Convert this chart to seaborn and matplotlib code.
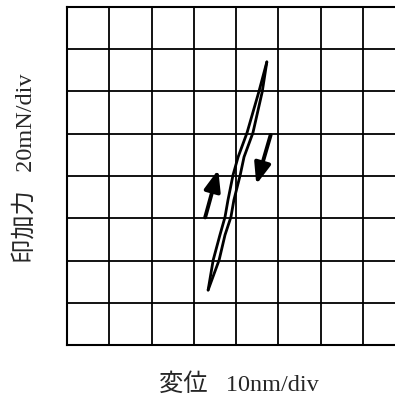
import matplotlib
matplotlib.use("Agg")
import matplotlib.pyplot as plt
import seaborn as sns
import pandas as pd
import numpy as np

# ---- data (displacement in nm, force in mN) ----
load_x = [33.4, 34.6, 36.2, 37.4, 38.1, 39.3, 40.5, 42.6, 45.4, 47.3]
load_y = [26.0, 40.2, 52.1, 60.6, 68.6, 80.5, 89.0, 100.4, 119.8, 134.0]
unload_x = [47.3, 46.2, 44.0, 41.9, 41.0, 39.5, 38.8, 37.4, 36.0, 33.4]
unload_y = [134.0, 119.8, 100.4, 89.0, 80.5, 68.6, 60.6, 52.1, 40.2, 26.0]

# direction arrows: (tail, head)
arrow_up = [(32.7, 60.4), (35.8, 83.0)]
arrow_down = [(48.2, 99.4), (44.8, 76.0)]

x_div = 10   # nm per division
y_div = 20   # mN per division
n_xdiv = 8
n_ydiv = 8

xlabel = "変位   10nm/div"
ylabel = "印加力   20mN/div"

sns.set_style("white")
plt.rcParams['font.family'] = ['Liberation Serif', 'Noto Sans CJK JP', 'DejaVu Sans']

df = pd.DataFrame({
    "x": load_x + unload_x,
    "y": load_y + unload_y,
    "branch": ["load"] * len(load_x) + ["unload"] * len(unload_x),
})

fig = plt.figure(figsize=(3.95, 4.01), dpi=100)
W, H = 395, 401
ax = fig.add_axes([67 / W, (H - 345) / H, 338 / W, 338 / H])

sns.lineplot(data=df, x="x", y="y", units="branch", estimator=None, sort=False,
             color="black", linewidth=2.0, ax=ax, legend=False)

for tail, head in (arrow_up, arrow_down):
    ax.annotate("", xy=head, xytext=tail,
                arrowprops=dict(arrowstyle="-|>,head_length=0.9,head_width=0.35",
                                color="black", lw=2.8, shrinkA=0, shrinkB=0,
                                mutation_scale=14))

ax.set_xlim(0, x_div * n_xdiv)
ax.set_ylim(0, y_div * n_ydiv)
ax.set_xticks(np.arange(0, x_div * n_xdiv + 1, x_div))
ax.set_yticks(np.arange(0, y_div * n_ydiv + 1, y_div))
ax.tick_params(length=0, labelbottom=False, labelleft=False)
ax.grid(True, color="black", linewidth=1.3)
ax.set_axisbelow(True)
for s in ax.spines.values():
    s.set_color("black")
    s.set_linewidth(1.5)
    s.set_visible(True)
ax.set_xlabel("")
ax.set_ylabel("")

fig.text(239 / W, 1 - 385 / H, xlabel, ha="center", va="center", fontsize=17.5)
fig.text(25 / W, 1 - 168 / H, ylabel, ha="center", va="center", fontsize=17.5,
         rotation=90)

fig.savefig("out.png", dpi=100)
